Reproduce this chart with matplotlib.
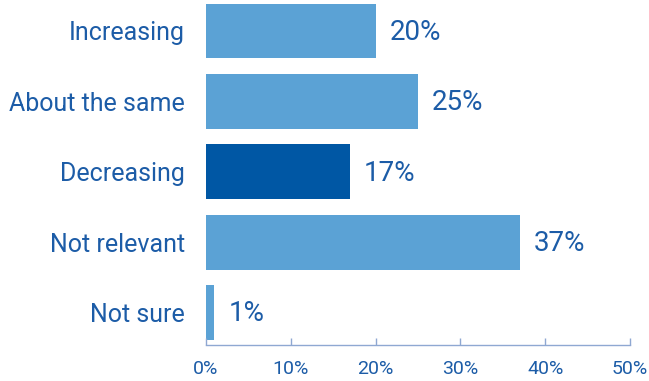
import matplotlib
matplotlib.use("Agg")
import matplotlib.pyplot as plt
from matplotlib.ticker import FuncFormatter

categories = ["Increasing", "About the same", "Decreasing", "Not relevant", "Not sure"]
values = [20, 25, 17, 37, 1]
highlight = "Decreasing"

light = "#5ba2d5"
dark = "#0057a4"
text_col = "#1c5ca7"
axis_col = "#8fa8d2"

plt.rcParams["font.family"] = ["Roboto", "DejaVu Sans"]

fig = plt.figure(figsize=(6.49, 3.81), dpi=100)
ax = fig.add_axes([0.3174, 0.0945, 0.6533, 0.9055])

colors = [dark if c == highlight else light for c in categories]
pos = list(range(len(categories)))
ax.barh(pos, values, height=0.78, color=colors)

# value labels just past the end of each bar
for y, v in zip(pos, values):
    ax.annotate(f"{v}%", (v, y), xytext=(10, -1), textcoords="offset points",
                va="center", ha="left", fontsize=20, color=text_col)

ax.set_yticks(pos)
ax.set_yticklabels(categories, fontsize=18, color=text_col)
ax.tick_params(axis="y", length=0, pad=15)

ax.set_xlim(0, 50)
ax.set_ylim(4.46, -0.44)
ax.set_xticks([0, 10, 20, 30, 40, 50])
ax.xaxis.set_major_formatter(FuncFormatter(lambda x, _: f"{x:.0f}%"))
ax.tick_params(axis="x", direction="in", length=5, width=1, color=axis_col,
               labelsize=14, labelcolor=text_col, pad=11)

for s in ["top", "right", "left"]:
    ax.spines[s].set_visible(False)
ax.spines["bottom"].set_color(axis_col)
ax.spines["bottom"].set_linewidth(1)

fig.savefig("out.png", dpi=100)
